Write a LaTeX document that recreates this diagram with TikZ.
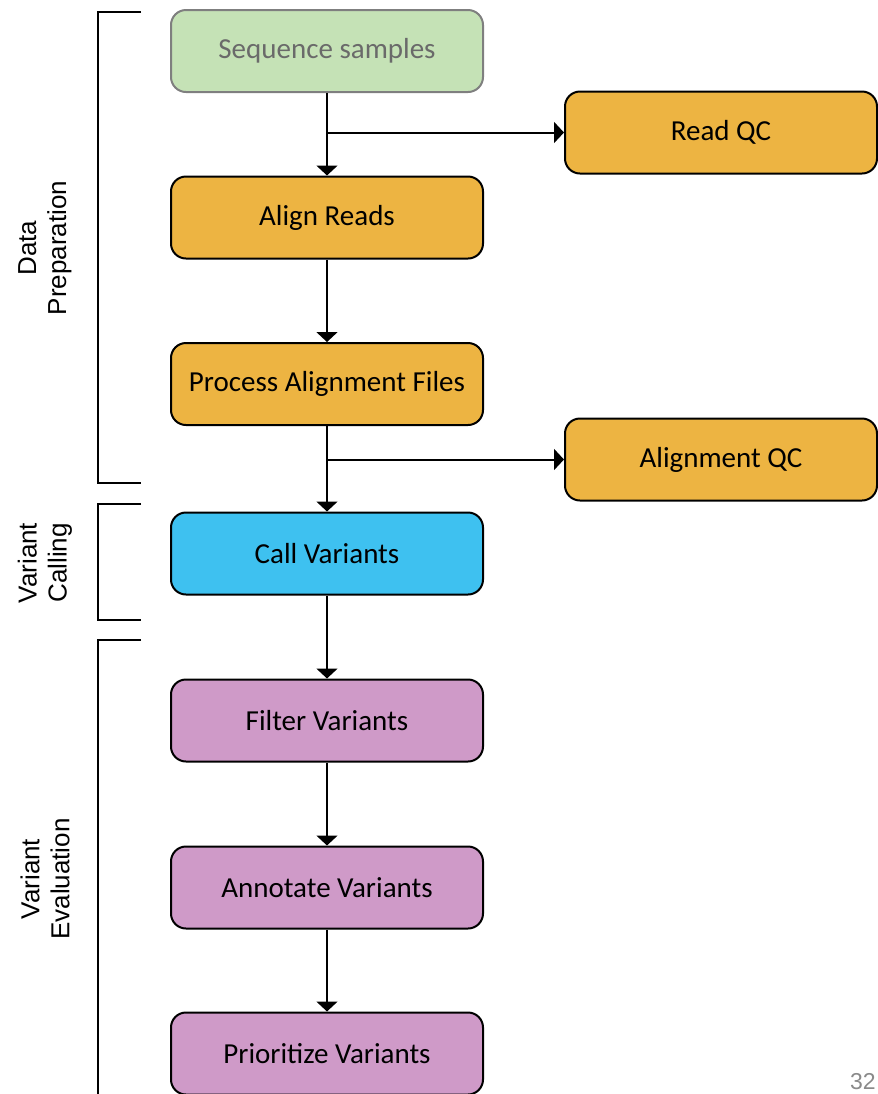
\documentclass[tikz,border=0pt]{standalone}
\usepackage{fontspec}
\setmainfont{Carlito}
\newfontfamily\sidefont{Liberation Sans}
\usetikzlibrary{arrows.meta}

\definecolor{seqfill}{HTML}{C5E2B6}
\definecolor{seqline}{HTML}{7F7F7F}
\definecolor{seqtext}{HTML}{6A6A6A}
\definecolor{prepfill}{HTML}{EDB442}
\definecolor{callfill}{HTML}{3EC1F0}
\definecolor{evalfill}{HTML}{CF9AC8}
\definecolor{pagegrey}{HTML}{8A8A8A}

\begin{document}
\begin{tikzpicture}[x=0.5pt,y=-0.5pt,
  stage/.style={draw=black,line width=1pt,rounded corners=7.5pt,
    minimum width=156pt,minimum height=41pt,inner sep=0pt,
    font=\fontsize{14.5}{17}\selectfont},
  flow/.style={line width=1pt,-{Triangle[width=10.5pt,length=5pt]}},
  brace/.style={line width=1pt},
  side/.style={rotate=90,align=center,
    font=\sidefont\fontsize{13}{15}\selectfont}]
\useasboundingbox (0,0) rectangle (878,1094);

% main column
\node[stage,fill=seqfill,draw=seqline,text=seqtext] (seq) at (327,51) {Sequence samples};
\node[stage,fill=prepfill] (align) at (327,217.5) {Align Reads};
\node[stage,fill=prepfill] (process) at (327,384) {Process Alignment Files};
\node[stage,fill=callfill] (call) at (327,553.5) {Call Variants};
\node[stage,fill=evalfill] (filter) at (327,720.5) {Filter Variants};
\node[stage,fill=evalfill] (annotate) at (327,887.5) {Annotate Variants};
\node[stage,fill=evalfill] (prioritize) at (327,1053.5) {Prioritize Variants};

% QC boxes on the right
\node[stage,fill=prepfill] (readqc) at (721,132.5) {Read QC};
\node[stage,fill=prepfill] (alignqc) at (721,459.5) {Alignment QC};

% arrows down the column
\foreach \a/\b in {seq/align,align/process,process/call,call/filter,filter/annotate,annotate/prioritize}
\draw[flow] (\a) -- (\b);

% side branches
\draw[flow] (seq.south |- readqc) -- (readqc.west);
\draw[flow] (process.south |- alignqc) -- (alignqc.west);

% brackets
\draw[brace] (141,12) -- (98,12) -- (98,483) -- (141,483);
\draw[brace] (141,504) -- (98,504) -- (98,620) -- (141,620);
\draw[brace] (141,640) -- (98,640) -- (98,1094);

\node[side] (prep) at (45,248) {Data\\Preparation};
\node[side] (calling) at (45,563) {Variant\\Calling};
\node[side] (evaluation) at (45,879) {Variant\\Evaluation};

% page number
\node[anchor=south east,inner sep=0pt,text=pagegrey,
  font=\sidefont\fontsize{11.5}{13}\selectfont] (page) at (876,1090) {32};
\end{tikzpicture}
\end{document}
